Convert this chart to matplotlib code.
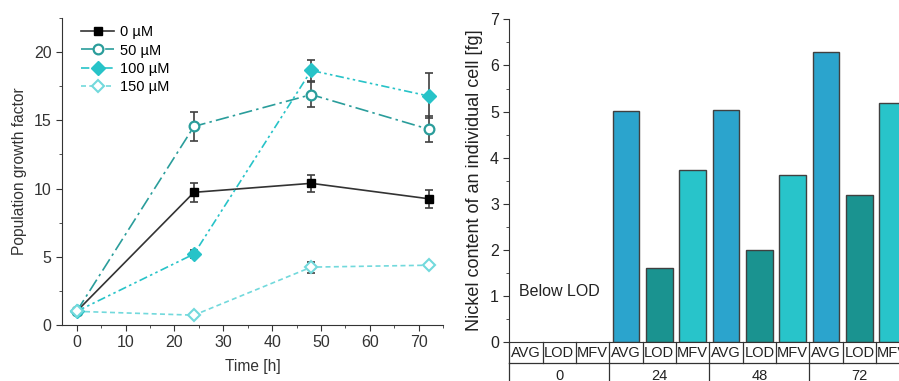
import matplotlib
matplotlib.use('Agg')
import numpy as np
import matplotlib.pyplot as plt
from matplotlib.ticker import MultipleLocator

# -----------------------------
# Data: growth curves
# -----------------------------
time_h = [0, 24, 48, 72]
conc_labels = ['0 µM', '50 µM', '100 µM', '150 µM']
growth_0 = [1.0, 9.72, 10.38, 9.25]
err_0 = [0.0, 0.7, 0.6, 0.65]
growth_50 = [1.0, 14.55, 16.88, 14.35]
err_50 = [0.0, 1.05, 0.9, 0.95]
growth_100 = [1.0, 5.2, 18.65, 16.78]
err_100 = [0.0, 0.3, 0.8, 1.65]
growth_150 = [1.0, 0.72, 4.24, 4.38]
err_150 = [0.0, 0.0, 0.4, 0.15]

# -----------------------------
# Data: nickel content
# -----------------------------
groups = ['0', '24', '48', '72']
sub_labels = ['AVG', 'LOD', 'MFV']
nickel_avg = [0.0, 5.02, 5.03, 6.29]
nickel_lod = [0.0, 1.6, 2.0, 3.19]
nickel_mfv = [0.0, 3.74, 3.62, 5.19]

fig = plt.figure(figsize=(8.99, 3.81), dpi=100)
plt.rcParams['font.family'] = ['Liberation Sans', 'DejaVu Sans']

# -----------------------------
# Left: growth factor
# -----------------------------
ax0 = fig.add_axes([0.069, 0.147, 0.424, 0.806])
styles = [
    dict(color='#333333', ls='-', marker='s', mfc='black', mec='black', ms=5.5),
    dict(color='#2a9d9b', ls=(0, (8, 2.5, 1.5, 2.5)), marker='o', mfc='white', mec='#2a9d9b', ms=7, mew=1.6),
    dict(color='#27c3c8', ls=(0, (5, 2, 1.5, 2, 1.5, 2)), marker='D', mfc='#27c3c8', mec='#27c3c8', ms=7),
    dict(color='#72d9dc', ls=(0, (3, 2)), marker='D', mfc='white', mec='#72d9dc', ms=6.5, mew=1.5),
]
series = [(growth_0, err_0), (growth_50, err_50), (growth_100, err_100), (growth_150, err_150)]
for (vals, errs), st, lab in zip(series, styles, conc_labels):
    ax0.errorbar(time_h, vals, yerr=errs, fmt='none', ecolor='#404040', elinewidth=1.2,
                 capsize=3, capthick=1.2, zorder=2)
    ax0.plot(time_h, vals, lw=1.2, label=lab, zorder=3, **st)

ax0.set_xlim(-3, 75)
ax0.set_ylim(0, 22.5)
ax0.xaxis.set_major_locator(MultipleLocator(10))
ax0.xaxis.set_minor_locator(MultipleLocator(5))
ax0.yaxis.set_major_locator(MultipleLocator(5))
ax0.yaxis.set_minor_locator(MultipleLocator(2.5))
ax0.spines['top'].set_visible(False)
ax0.spines['right'].set_visible(False)
for sp in ['left', 'bottom']:
    ax0.spines[sp].set_color('#333333')
ax0.tick_params(which='both', direction='out', color='#333333', labelsize=11.5, labelcolor='#333333')
ax0.tick_params(which='major', length=4)
ax0.tick_params(which='minor', length=2.5)
ax0.set_xlabel('Time [h]', fontsize=11.2, color='#333333', labelpad=6)
ax0.set_ylabel('Population growth factor', fontsize=11.2, color='#333333', labelpad=5)
ax0.legend(loc='upper left', bbox_to_anchor=(0.03, 1.0), frameon=False, fontsize=10.5,
           handlelength=2.3, handletextpad=0.4, labelspacing=0.3, borderaxespad=0.1)

# -----------------------------
# Right: nickel content per cell
# -----------------------------
ax1 = fig.add_axes([0.5665, 0.103, 0.445, 0.846])
n_sub = len(sub_labels)
bar_colors = ['#2ba4cd', '#1a9390', '#28c4ca']
for g_i in range(len(groups)):
    vals = [nickel_avg[g_i], nickel_lod[g_i], nickel_mfv[g_i]]
    for s_i, v in enumerate(vals):
        if v > 0:
            ax1.bar(g_i * n_sub + s_i, v, width=0.8, color=bar_colors[s_i],
                    edgecolor='#404040', linewidth=1.0, zorder=2)

n_cat = len(groups) * n_sub
ax1.set_xlim(-0.5, n_cat - 0.5)
ax1.set_ylim(0, 7)
ax1.yaxis.set_major_locator(MultipleLocator(1))
ax1.yaxis.set_minor_locator(MultipleLocator(0.5))
ax1.set_xticks([])
ax1.spines['top'].set_visible(False)
ax1.spines['right'].set_visible(False)
for sp in ['left', 'bottom']:
    ax1.spines[sp].set_color('#333333')
ax1.tick_params(which='both', direction='out', color='#333333', labelsize=11.5, labelcolor='#222222')
ax1.tick_params(which='major', length=4)
ax1.tick_params(which='minor', length=2.5)
ax1.set_ylabel('Nickel content of an individual cell [fg]', fontsize=13, color='#222222', labelpad=5)
ax1.text(1.0, 1.1, 'Below LOD', fontsize=11.5, color='#222222', ha='center', va='center')

# category table below the axis
trans = ax1.get_xaxis_transform()
row1 = -0.067
row2 = -0.13
for k in range(n_cat + 1):
    ax1.plot([k - 0.5, k - 0.5], [0, row1], transform=trans, color='#333333', lw=0.9, clip_on=False)
ax1.plot([-0.5, n_cat - 0.5], [row1, row1], transform=trans, color='#333333', lw=0.9, clip_on=False)
for k in range(n_cat):
    ax1.text(k, row1 / 2, sub_labels[k % n_sub], transform=trans, ha='center', va='center',
             fontsize=10.5, color='#222222', clip_on=False)
for g_i, g in enumerate(groups):
    left = g_i * n_sub - 0.5
    ax1.plot([left, left], [row1, row2], transform=trans, color='#333333', lw=0.9, clip_on=False)
    ax1.text(g_i * n_sub + 1, -0.105, g, transform=trans, ha='center', va='center',
             fontsize=10.5, color='#222222', clip_on=False)

plt.savefig('out.png', dpi=100)
plt.close()
